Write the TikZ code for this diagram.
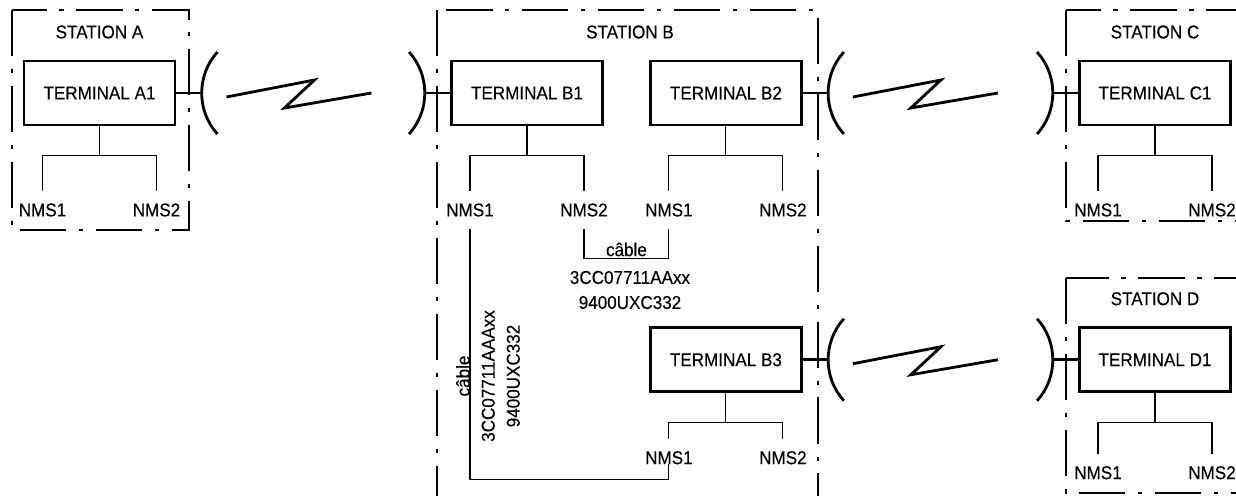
\documentclass[tikz,border=0pt]{standalone}
\usepackage{fontspec}
\setmainfont{Liberation Sans}[FakeStretch=0.92,FakeBold=0.3]
\usetikzlibrary{positioning}

\begin{document}
\begin{tikzpicture}[x=0.025cm,y=-0.025cm,font=\fontsize{13.2}{17.8}\selectfont,
term/.style={draw,line width=1.9pt,minimum width=3.78cm,minimum height=1.6cm,inner sep=0pt},
nms/.style={inner sep=0pt,outer ysep=9pt},stat/.style={inner sep=0pt},
station/.style={line width=0.75pt,dash pattern=on 33pt off 9pt on 3pt off 9pt},
tree/.style={line width=0.75pt},ant/.style={line width=2pt},radio/.style={line width=2pt}]
\useasboundingbox (0,0) rectangle (1236,495);
\draw[station] (12,10) rectangle (189,230);
\draw[station] (437,10) rectangle (818,530);
\draw[station] (1066,10) rectangle (1290,221);
\draw[station] (1066,278) rectangle (1290,493);
\node[term] (a1) at (99.5,93) {TERMINAL A1};
\node[term] (b1) at (527,93) {TERMINAL B1};
\node[term,right=1.125cm of b1] (b2) {TERMINAL B2};
\node[term,below=5cm of b2] (b3) {TERMINAL B3};
\node[term] (c1) at (1155,93) {TERMINAL C1};
\node[term,below=5cm of c1] (d1) {TERMINAL D1};
\node[stat,above=5.2mm of a1] (sa) {STATION A};
\node[stat] (sb) at (630,32) {STATION B};
\node[stat,above=5.2mm of c1] (sc) {STATION C};
\node[stat,above=5.2mm of d1] (sd) {STATION D};
\foreach \t/\dy in {a1/117,b1/117,b2/117,c1/117,b3/98,d1/113}{
  \node[nms] (\t-n1) at ([shift={(-57,\dy)}]\t.center) {NMS1};
  \node[nms] (\t-n2) at ([shift={(57,\dy)}]\t.center) {NMS2};
  \draw[tree] (\t.south) -- ++(0,29) -| (\t-n1.north);
  \draw[tree] (\t.south) ++(0,29) -| (\t-n2.north);
}
\draw[tree] (b1-n2.south) -- ++(0,29) -| node[pos=0.25,above=1pt,inner sep=0pt] (cab1) {câble} (b2-n1.south);
\node[align=center] (cabref) at (630,290) {3CC07711AAxx\\9400UXC332};
\draw[tree] (b1-n1.south) -- ++(0,250) -| (b3-n1.base);
\node[rotate=90,align=center] (cabv) at (488,376) {câble\\3CC07711AAAxx\\9400UXC332};
\draw[ant] (a1.east) -- ++(25,0) coordinate (a1-ant);
\draw[ant] (b1.west) -- ++(-25,0) coordinate (b1-ant);
\draw[ant] (b2.east) -- ++(25,0) coordinate (b2-ant);
\draw[ant] (c1.west) -- ++(-25,0) coordinate (c1-ant);
\draw[ant] (b3.east) -- ++(25,0) coordinate (b3-ant);
\draw[ant] (d1.west) -- ++(-25,0) coordinate (d1-ant);
\foreach \c/\d in {a1-ant/1,b1-ant/-1,b2-ant/1,c1-ant/-1,b3-ant/1,d1-ant/-1}
  \draw[ant] ([shift={({16*(\d)},-41)}]\c) .. controls ([shift={({-5*(\d)},-18)}]\c) and ([shift={({-5*(\d)},18)}]\c) .. ([shift={({16*(\d)},41)}]\c);
\foreach \s in {a1-ant,b2-ant,b3-ant}
  \draw[radio] ([shift={(25,4)}]\s) -- ([shift={(113,-13)}]\s) -- ([shift={(83,15)}]\s) -- ([shift={(170,0)}]\s);
\end{tikzpicture}
\end{document}
